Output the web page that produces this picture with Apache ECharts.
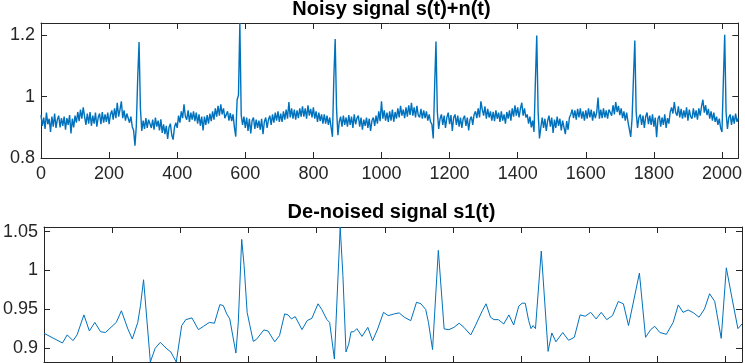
<!DOCTYPE html>
<html>
<head>
<meta charset="utf-8">
<script src="https://cdn.jsdelivr.net/npm/echarts@6/dist/echarts.min.js"></script>
<style>
html,body{margin:0;padding:0;background:#fff;}
#c{width:745px;height:363px;}
</style>
</head>
<body>
<div id="c"></div>
<script>
// ---- data ----
const titles = ["Noisy signal s(t)+n(t)", "De-noised signal s1(t)"];
const xTicks = [0, 200, 400, 600, 800, 1000, 1200, 1400, 1600, 1800, 2000];
const topYTicks = [0.8, 1, 1.2];
const bottomYTicks = [0.9, 0.95, 1, 1.05];
const noisyStep = 4; // sample spacing of the noisy values below
const noisy = [
.940,.905,.932,.895,.948,.910,.928,.885,.935,.902,.945,.898,.925,.938,.900,.930,
.905,.935,.892,.930,.908,.940,.880,.928,.900,.938,.915,.950,.920,.958,.928,.965,
.935,.908,.945,.912,.950,.905,.938,.912,.948,.902,.932,.945,.910,.950,.915,.942,
.918,.948,.910,.942,.955,.925,.962,.930,.980,.935,.958,.985,.930,.955,.922,.945,
.942,.915,.935,.902,.890,.840,.905,1.060,1.178,.960,.888,.922,.895,.930,.898,.925,
.928,.898,.925,.892,.932,.902,.922,.890,.926,.882,.910,.878,.905,.862,.900,.912,
.875,.860,.900,.915,.898,.938,.915,.952,.930,.975,.935,.925,.955,.918,.948,.925,
.952,.920,.948,.912,.942,.905,.935,.890,.935,.908,.940,.912,.945,.920,.952,.925,
.962,.935,.970,.938,.975,.942,.962,.930,.925,.952,.922,.946,.920,.942,.900,.870,
.990,1.005,1.240,.940,.908,.935,.898,.932,.888,.928,.880,.922,.932,.895,.925,.898,
.922,.892,.928,.878,.918,.932,.898,.925,.938,.908,.942,.915,.948,.922,.952,.918,
.945,.918,.952,.925,.958,.928,.982,.932,.962,.928,.958,.925,.955,.930,.962,.935,
.968,.935,.962,.928,.972,.938,.960,.932,.965,.928,.952,.918,.948,.920,.942,.912,
.942,.912,.938,.908,.932,.900,.869,1.060,1.188,.960,.874,.918,.935,.902,.938,.908,
.932,.902,.940,.908,.935,.898,.942,.910,.930,.938,.902,.932,.892,.925,.905,.932,
.898,.928,.888,.922,.932,.905,.938,.912,.952,.920,.985,.928,.955,.922,.948,.918,
.952,.922,.958,.918,.950,.928,.962,.932,.970,.938,.958,.930,.965,.935,.972,.940,
.980,.938,.965,.932,.970,.940,.932,.960,.928,.955,.930,.952,.922,.942,.918,.910,
.864,1.030,1.180,.950,.895,.928,.942,.908,.938,.898,.932,.948,.910,.940,.888,.932,
.942,.908,.938,.902,.932,.898,.928,.938,.905,.932,.890,.925,.935,.908,.942,.952,
.930,.962,.932,.985,.958,.938,.968,.928,.960,.932,.952,.922,.950,.920,.955,.928,
.948,.918,.952,.922,.942,.912,.950,.928,.955,.922,.962,.935,.972,.938,.965,.932,
.960,.980,.938,.962,.932,.942,.912,.935,.900,.922,.885,1.050,1.199,.950,.864,.900,
.932,.898,.928,.888,.922,.938,.902,.932,.882,.925,.898,.935,.905,.928,.890,.922,
.928,.878,.920,.892,.932,.942,.958,.930,.955,.925,.960,.932,.962,.928,.952,.922,
.955,.928,.962,.932,.958,.922,.952,.930,.948,.997,.928,.958,.930,.962,.932,.955,
.928,.958,.962,.938,.972,.942,.982,.950,.970,.940,.962,.930,.952,.922,.948,.918,
.915,.869,.930,1.060,1.183,.950,.898,.932,.942,.908,.938,.898,.935,.948,.910,.938,
.908,.942,.902,.932,.868,.928,.938,.902,.932,.908,.942,.898,.930,.912,.950,.965,
.945,.982,.948,.938,.968,.932,.960,.928,.955,.932,.965,.922,.958,.935,.928,.962,
.932,.955,.925,.962,.938,.968,.990,.948,.972,.940,.960,.928,.952,.922,.948,.918,
.935,.908,.928,.898,.885,1.050,1.202,.950,.895,.932,.942,.908,.938,.912,.945,.918,
.930
];
const denoisedX = [0,54,68,85,97,117,133,149,166,180,212,227,246,259,275,283,292,312,326,341,361,372,388,404,416,434,453,468,485,500,516,526,536,545,563,570,580,587,596,604,614,623,645,657,677,691,706,716,726,737,757,772,786,804,815,830,838,852,869,877,886,894,901,909,918,933,950,964,979,996,1010,1028,1042,1057,1076,1093,1106,1120,1128,1140,1157,1174,1188,1203,1218,1232,1252,1268,1286,1297,1310,1320,1333,1349,1364,1378,1393,1403,1412,1422,1429,1435,1442,1459,1479,1490,1502,1522,1539,1556,1573,1588,1604,1620,1635,1651,1668,1685,1700,1715,1747,1765,1780,1792,1807,1826,1846,1861,1875,1890,1906,1922,1938,1953,1968,1987,2002,2019,2036,2048];
const denoisedY = [.919,.9065,.917,.9095,.917,.9427,.922,.933,.921,.920,.933,.948,.9246,.9116,.933,.9547,.988,.882,.8996,.9073,.8987,.895,.882,.929,.9366,.9388,.9237,.928,.933,.932,.956,.9547,.944,.9375,.8935,.933,1.040,1.0065,.946,.929,.9086,.911,.9233,.922,.908,.916,.944,.9427,.9375,.9405,.9237,.9353,.9384,.957,.9496,.9366,.933,.8858,1.056,.9935,.895,.905,.921,.921,.925,.915,.9267,.9095,.9246,.946,.9418,.944,.9453,.9397,.9353,.959,.957,.9496,.933,.898,1.0259,.9246,.9237,.9267,.932,.9267,.9168,.931,.948,.957,.9397,.9366,.9366,.931,.9427,.9297,.954,.9578,.9578,.9353,.925,.929,.925,1.025,.8957,.9194,.908,.920,.910,.9138,.9427,.941,.946,.9375,.946,.9366,.9418,.960,.957,.929,.9966,.9138,.9237,.928,.920,.9177,.933,.9556,.946,.949,.9453,.9397,.9504,.970,.960,.9125,1.0034,.9634,.925,.931];

// ---- chart ----
const axisColor = '#262626';
const lineColor = '#0072BD';
const fontFam = 'Liberation Sans, Arial, Helvetica, sans-serif';
const xRange = [0, 2048];
const topRange = [0.8, 1.24];
const botRange = [0.882, 1.056];

const noisyData = noisy.map((v, i) => [i * noisyStep, v]);
const denoisedData = denoisedX.map((x, i) => [x, denoisedY[i]]);

function xAx(grid, pos, labels) {
  return {
    type: 'value', gridIndex: grid, position: pos,
    min: xRange[0], max: xRange[1], interval: 200,
    axisLine: {show: true, onZero: false, lineStyle: {color: axisColor, width: 1}},
    axisTick: {show: true, inside: true, length: 6, lineStyle: {color: axisColor}},
    axisLabel: {show: labels, fontSize: 18, color: axisColor, fontFamily: fontFam, margin: 7,
      formatter: v => (xTicks.indexOf(v) >= 0 ? String(v) : '')},
    splitLine: {show: false}
  };
}
function yAx(grid, pos, labels, range, ticks, interval) {
  const a = {
    type: 'value', gridIndex: grid, position: pos,
    min: range[0], max: range[1],
    axisLine: {show: true, onZero: false, lineStyle: {color: axisColor, width: 1}},
    axisTick: {show: true, inside: true, length: 6, lineStyle: {color: axisColor}},
    axisLabel: {show: labels, fontSize: 18, color: axisColor, fontFamily: fontFam, margin: 6,
      formatter: v => {
        const t = ticks.find(t => Math.abs(t - v) < 1e-9);
        return t === undefined ? '' : String(t);
      }},
    splitLine: {show: false}
  };
  if (interval) a.interval = interval; else a.splitNumber = 4;
  return a;
}

const plotCenterX = 391.5;
const chart = echarts.init(document.getElementById('c'), null, {renderer: 'canvas'});
chart.setOption({
  animation: false,
  backgroundColor: '#ffffff',
  graphic: [
    {type: 'text', x: plotCenterX, y: -1, style: {text: titles[0], align: 'center', verticalAlign: 'top',
      font: 'bold 20px ' + fontFam, fill: '#000'}},
    {type: 'text', x: plotCenterX, y: 202, style: {text: titles[1], align: 'center', verticalAlign: 'top',
      font: 'bold 20px ' + fontFam, fill: '#000'}}
  ],
  grid: [
    {left: 41, right: 3, top: 23, height: 135, containLabel: false},
    {left: 41, right: 3, top: 227, height: 135, containLabel: false}
  ],
  xAxis: [xAx(0, 'bottom', true), xAx(0, 'top', false), xAx(1, 'bottom', false), xAx(1, 'top', false)],
  yAxis: [
    yAx(0, 'left', true, topRange, topYTicks, 0.2),
    yAx(0, 'right', false, topRange, topYTicks, 0.2),
    yAx(1, 'left', true, botRange, bottomYTicks, null),
    yAx(1, 'right', false, botRange, bottomYTicks, null)
  ],
  series: [
    {type: 'line', xAxisIndex: 0, yAxisIndex: 0, data: noisyData, showSymbol: false, symbol: 'none',
      lineStyle: {color: lineColor, width: 1.4}, clip: true},
    {type: 'line', xAxisIndex: 2, yAxisIndex: 2, data: denoisedData, showSymbol: false, symbol: 'none',
      lineStyle: {color: lineColor, width: 1}, clip: true}
  ]
});
</script>
</body>
</html>
